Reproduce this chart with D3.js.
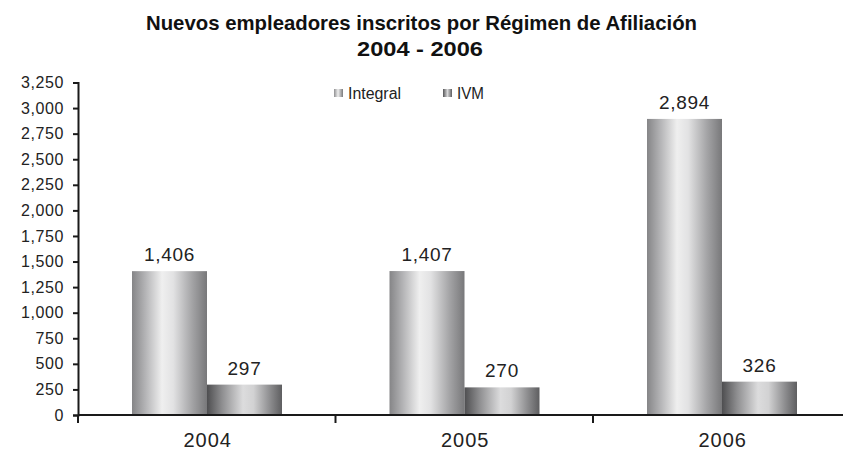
<!DOCTYPE html>
<html><head><meta charset="utf-8">
<script src="https://cdn.jsdelivr.net/npm/d3@7"></script>
<style>body{margin:0;background:#fff}svg{display:block}</style>
</head><body>
<script>
const years = ["2004", "2005", "2006"];
const seriesNames = ["Integral", "IVM"];
const integral = [1406, 1407, 2894];
const ivm = [297, 270, 326];
const yTicks = [0, 250, 500, 750, 1000, 1250, 1500, 1750, 2000, 2250, 2500, 2750, 3000, 3250];
const titleLines = ["Nuevos empleadores inscritos por Régimen de Afiliación", "2004 - 2006"];

const W = 843, H = 464;
const svg = d3.select("body").append("svg").attr("width", W).attr("height", H);
const defs = svg.append("defs");

function grad(id, stops) {
  const g = defs.append("linearGradient").attr("id", id).attr("x1", "0%").attr("x2", "100%").attr("y1", "0%").attr("y2", "0%");
  stops.forEach(s => g.append("stop").attr("offset", s[0]).attr("stop-color", s[1]));
}
grad("gInt", [["0%", "#858587"], ["18%", "#b4b4b6"], ["40%", "#efefef"], ["55%", "#e2e2e3"], ["80%", "#a4a4a6"], ["100%", "#78787a"]]);
grad("gIvm", [["0%", "#4e4e50"], ["20%", "#8e8e90"], ["48%", "#dcdcdd"], ["62%", "#d2d2d3"], ["85%", "#8a8a8c"], ["100%", "#5e5e60"]]);
const fills = ["url(#gInt)", "url(#gIvm)"];
const swatchFills = ["url(#gIntS)", "url(#gIvmS)"];
grad("gIntS", [["0%", "#909092"], ["45%", "#eeeeee"], ["100%", "#7a7a7c"]]);
grad("gIvmS", [["0%", "#555557"], ["50%", "#d8d8d9"], ["100%", "#5e5e60"]]);

const x0 = d3.scaleBand().domain(years).range([78, 850.5]).paddingInner(0).paddingOuter(0);
const x1 = d3.scaleBand().domain(seriesNames).range([54, 204]).padding(0);
const y = d3.scaleLinear().domain([0, 3250]).range([415, 82.5]);

const data = years.map((yr, i) => ({year: yr, values: [integral[i], ivm[i]]}));

// Title
const tfont = "'Liberation Sans',Arial,sans-serif";
svg.append("text").attr("x", 421.5).attr("y", 30).attr("text-anchor", "middle")
  .attr("font-family", tfont).attr("font-weight", "bold").attr("font-size", 20.5).attr("fill", "#111")
  .attr("textLength", 551).attr("lengthAdjust", "spacingAndGlyphs").text(titleLines[0]);
svg.append("text").attr("x", 420).attr("y", 56).attr("text-anchor", "middle")
  .attr("font-family", tfont).attr("font-weight", "bold").attr("font-size", 20.5).attr("fill", "#111")
  .attr("textLength", 126).attr("lengthAdjust", "spacingAndGlyphs").text(titleLines[1]);

// Bars
const groups = svg.append("g").selectAll("g").data(data).join("g")
  .attr("transform", d => `translate(${x0(d.year)},0)`);
groups.selectAll("rect").data(d => d.values.map((v, k) => ({v, k}))).join("rect")
  .attr("x", d => x1(seriesNames[d.k]))
  .attr("width", x1.bandwidth())
  .attr("y", d => y(d.v))
  .attr("height", d => y(0) - y(d.v))
  .attr("fill", d => fills[d.k]);
groups.selectAll("text").data(d => d.values.map((v, k) => ({v, k}))).join("text")
  .attr("x", d => x1(seriesNames[d.k]) + x1.bandwidth() / 2)
  .attr("y", d => y(d.v) - 10)
  .attr("text-anchor", "middle")
  .attr("font-family", "'Liberation Sans',Arial,sans-serif")
  .attr("font-size", 19).attr("letter-spacing", 0.7).attr("fill", "#222")
  .text(d => d3.format(",")(d.v));

// Y axis
const yAxis = svg.append("g").attr("transform", "translate(78,0)")
  .call(d3.axisLeft(y).tickValues(yTicks).tickFormat(d3.format(",")).tickSize(5).tickSizeOuter(5).tickPadding(9));
yAxis.select(".domain").attr("stroke", "#1a1a1a").attr("stroke-width", 2);
yAxis.selectAll(".tick line").attr("stroke", "#1a1a1a").attr("stroke-width", 2);
yAxis.selectAll(".tick text").attr("font-family", "'Liberation Sans',Arial,sans-serif")
  .attr("font-size", 16).attr("letter-spacing", 0.6).attr("fill", "#222");

// X axis
const xAxis = svg.append("g").attr("transform", `translate(0,${y(0)})`);
xAxis.append("line").attr("x1", 78).attr("x2", 850).attr("y1", 0).attr("y2", 0)
  .attr("stroke", "#1a1a1a").attr("stroke-width", 2);
xAxis.selectAll("line.tk").data(years).join("line").attr("class", "tk")
  .attr("x1", d => x0(d)).attr("x2", d => x0(d)).attr("y1", 0).attr("y2", 8)
  .attr("stroke", "#1a1a1a").attr("stroke-width", 2);
xAxis.selectAll("text").data(years).join("text")
  .attr("x", d => x0(d) + x0.bandwidth() / 2 + 1)
  .attr("y", 32).attr("text-anchor", "middle")
  .attr("font-family", "'Liberation Sans',Arial,sans-serif")
  .attr("font-size", 20).attr("letter-spacing", 1).attr("fill", "#222")
  .text(d => d);

// Legend
const legX = [334, 443];
const legW = [53, 27];
const leg = svg.append("g");
seriesNames.forEach((s, i) => {
  leg.append("rect").attr("x", legX[i]).attr("y", 89).attr("width", 9).attr("height", 8).attr("fill", swatchFills[i]);
  leg.append("text").attr("x", legX[i] + 14).attr("y", 99)
    .attr("font-family", tfont).attr("font-size", 16).attr("fill", "#222")
    .attr("textLength", legW[i]).attr("lengthAdjust", "spacingAndGlyphs").text(s);
});
</script>
</body></html>
